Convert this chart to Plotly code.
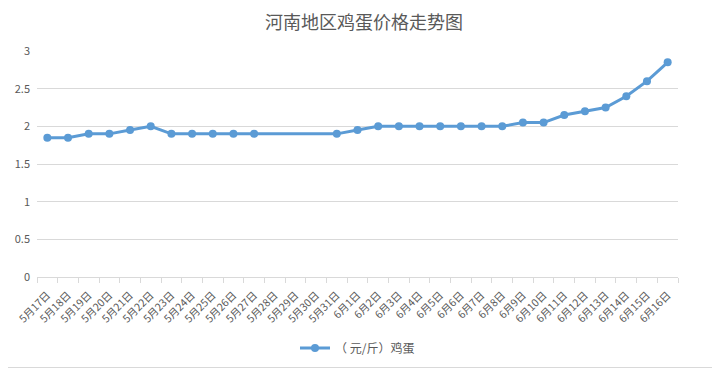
import plotly.graph_objects as go

categories = ["5月17日","5月18日","5月19日","5月20日","5月21日","5月22日","5月23日","5月24日",
              "5月25日","5月26日","5月27日","5月28日","5月29日","5月30日","5月31日",
              "6月1日","6月2日","6月3日","6月4日","6月5日","6月6日","6月7日","6月8日",
              "6月9日","6月10日","6月11日","6月12日","6月13日","6月14日","6月15日","6月16日"]
prices = [1.85,1.85,1.9,1.9,1.95,2.0,1.9,1.9,1.9,1.9,1.9,None,None,None,1.9,
          1.95,2.0,2.0,2.0,2.0,2.0,2.0,2.0,2.05,2.05,2.15,2.2,2.25,2.4,2.6,2.85]
series_name = "（ 元/斤）鸡蛋"
title = "河南地区鸡蛋价格走势图"

# page body has an 8px default margin, so the figure is drawn 8px in from the window edge
OFF = 8
W, H = 720 - OFF, 368 - OFF
ml, mr, mt, mb = 37 - OFF, 42, 51 - OFF, 91
font = "Noto Sans CJK SC, Microsoft YaHei, sans-serif"

fig = go.Figure()
fig.add_trace(go.Scatter(
    x=categories, y=prices, mode="lines+markers", name=series_name,
    connectgaps=True,
    line=dict(color="#5B9BD5", width=3),
    marker=dict(color="#5B9BD5", size=8),
))

pw = W - ml - mr
ph = H - mt - mb
fig.update_layout(
    width=W, height=H,
    margin=dict(l=ml, r=mr, t=mt, b=mb, autoexpand=False),
    paper_bgcolor="white", plot_bgcolor="white",
    font=dict(family=font, color="#595959", size=10),
    title=dict(text=title, x=0.5, xanchor="center", y=1 - (23 - OFF) / H, yanchor="middle",
               font=dict(size=18, color="#595959", family=font)),
    showlegend=True,
    legend=dict(orientation="h", x=0.5, xanchor="center", y=-(348 - 277) / ph, yanchor="middle",
                font=dict(size=12, color="#595959")),
    xaxis=dict(type="category", range=[-0.5, len(categories) - 0.5], autorange=False,
               showgrid=False, showline=True, linecolor="#D9D9D9", linewidth=1,
               ticks="outside", tickson="boundaries", ticklen=5, tickcolor="#D9D9D9",
               tickangle=-45, tickfont=dict(size=10.5, color="#595959"), fixedrange=True,
               ticklabelstandoff=7, automargin=False),
    yaxis=dict(range=[0, 3], dtick=0.5, showgrid=True, gridcolor="#D9D9D9", gridwidth=1,
               zeroline=False, showline=False, tickfont=dict(size=11, color="#595959"),
               ticks="", ticklabelstandoff=6, automargin=False),
    shapes=[
        dict(type="line", xref="paper", yref="paper",
             x0=(W - 0.5 - ml) / pw, x1=(W - 0.5 - ml) / pw,
             y0=-(mb) / ph, y1=(ph + mt) / ph,
             line=dict(color="#D9D9D9", width=1)),
        dict(type="line", xref="paper", yref="paper",
             x0=-ml / pw, x1=(W - ml) / pw,
             y0=-(mb - 0.5) / ph, y1=-(mb - 0.5) / ph,
             line=dict(color="#D9D9D9", width=1)),
    ],
)
fig.write_html("out.html")
